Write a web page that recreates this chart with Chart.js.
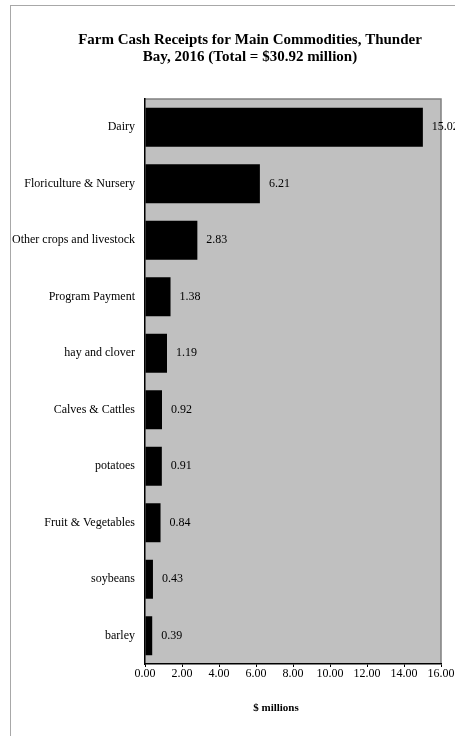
<!DOCTYPE html>
<html>
<head>
<meta charset="utf-8">
<script src="https://cdn.jsdelivr.net/npm/chart.js@4"></script>
<style>
  html, body { margin: 0; padding: 0; background: #fff; }
  #wrap { width: 455px; height: 736px; position: relative; }
</style>
</head>
<body>
<div id="wrap"><canvas id="farmChart"></canvas></div>
<script>
const commodities = ['Dairy', 'Floriculture & Nursery', 'Other crops and livestock', 'Program Payment',
    'hay and clover', 'Calves & Cattles', 'potatoes', 'Fruit & Vegetables', 'soybeans', 'barley'];
const receipts = [15.02, 6.21, 2.83, 1.38, 1.19, 0.92, 0.91, 0.84, 0.43, 0.39];
const titleLines = ['Farm Cash Receipts for Main Commodities, Thunder', 'Bay, 2016 (Total = $30.92 million)'];
const axisTitle = '$ millions';

const serif = "'Liberation Serif', 'Times New Roman', serif";

// frame, grey plot area, titles
const backdrop = {
    id: 'backdrop',
    beforeDraw(chart) {
        const { ctx, chartArea: a } = chart;
        ctx.save();
        ctx.strokeStyle = '#a8a8a8';
        ctx.lineWidth = 1;
        ctx.strokeRect(10.5, 5.5, 1000, 1000);
        ctx.fillStyle = '#c0c0c0';
        ctx.fillRect(a.left, a.top, a.right - a.left, a.bottom - a.top);
        ctx.strokeStyle = '#808080';
        ctx.lineWidth = 1.5;
        ctx.beginPath();
        ctx.moveTo(a.left, a.top);
        ctx.lineTo(a.right, a.top);
        ctx.lineTo(a.right, a.bottom);
        ctx.stroke();
        ctx.fillStyle = '#000';
        ctx.textAlign = 'center';
        ctx.textBaseline = 'middle';
        ctx.font = 'bold 15px ' + serif;
        titleLines.forEach((t, i) => ctx.fillText(t, 250, 40 + i * 17));
        ctx.font = 'bold 11px ' + serif;
        ctx.fillText(axisTitle, 276, 708);
        ctx.restore();
    }
};

// numbers at the end of each bar
const valueLabels = {
    id: 'valueLabels',
    afterDatasetsDraw(chart) {
        const { ctx } = chart;
        const meta = chart.getDatasetMeta(0);
        ctx.save();
        ctx.fillStyle = '#000';
        ctx.font = '12px ' + serif;
        ctx.textAlign = 'left';
        ctx.textBaseline = 'middle';
        meta.data.forEach((bar, i) => {
            ctx.fillText(receipts[i].toFixed(2), bar.x + 9, bar.y);
        });
        ctx.restore();
    }
};

new Chart(document.getElementById('farmChart'), {
    type: 'bar',
    data: {
        labels: commodities,
        datasets: [{
            data: receipts,
            backgroundColor: '#000',
            borderWidth: 0,
            barPercentage: 0.69,
            categoryPercentage: 1
        }]
    },
    options: {
        indexAxis: 'y',
        responsive: true,
        maintainAspectRatio: false,
        animation: false,
        layout: { padding: { top: 99, right: 14, bottom: 20, left: 0 } },
        plugins: {
            legend: { display: false },
            tooltip: { enabled: false }
        },
        scales: {
            x: {
                min: 0,
                max: 16,
                ticks: {
                    stepSize: 2,
                    color: '#000',
                    font: { family: serif, size: 12 },
                    padding: 0,
                    maxRotation: 0,
                    autoSkip: false,
                    callback: v => v.toFixed(2)
                },
                grid: { drawOnChartArea: false, tickLength: 3, color: '#000' },
                border: { color: '#000', width: 1.5 },
                afterFit: s => { s.height = 52; }
            },
            y: {
                ticks: {
                    color: '#000',
                    font: { family: serif, size: 12 },
                    padding: 10
                },
                grid: { display: false, drawTicks: false },
                border: { color: '#000', width: 1.5 },
                afterFit: s => { s.width = 145; }
            }
        }
    },
    plugins: [backdrop, valueLabels]
});
</script>
</body>
</html>
